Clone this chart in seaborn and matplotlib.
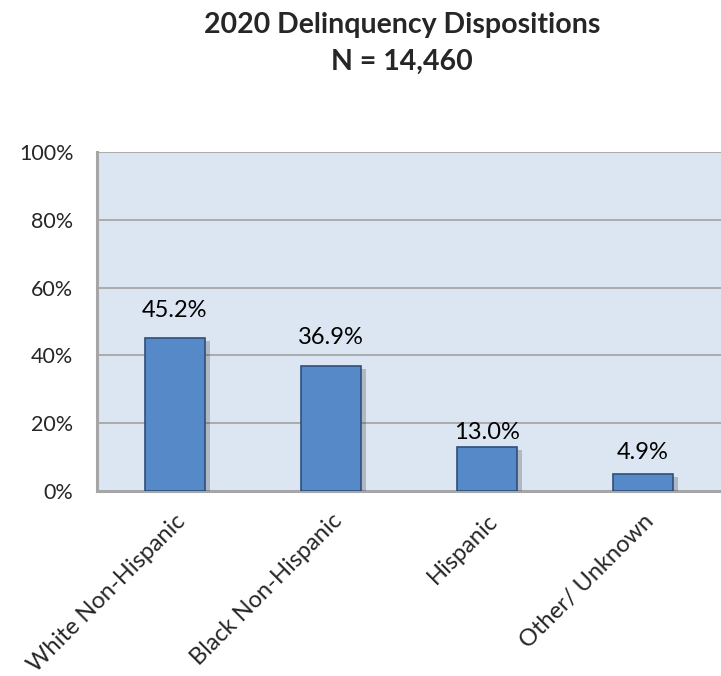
import matplotlib
matplotlib.use("Agg")
import matplotlib.pyplot as plt
import matplotlib.patheffects as pe
from matplotlib.ticker import FuncFormatter
import pandas as pd
import seaborn as sns

# ------------------------------------------------------
# Data
# ------------------------------------------------------
categories = ["White Non-Hispanic", "Black Non-Hispanic", "Hispanic", "Other/ Unknown"]
shares = [45.2, 36.9, 13.0, 4.9]
title_lines = ["2020 Delinquency Dispositions", "N = 14,460"]
y_ticks = [0, 20, 40, 60, 80, 100]

# gap between bar top and its value label (pixels), as placed in the original
label_gap_px = [27, 28, 14, 22]

df = pd.DataFrame({"group": categories, "share": shares})

# ------------------------------------------------------
# Style
# ------------------------------------------------------
sns.set_style("white")
plt.rcParams["font.family"] = ["Lato", "DejaVu Sans"]

BAR_COLOR = "#5589C8"
BG_COLOR = "#DCE6F2"
GRID_COLOR = "#A6A6A6"

fig = plt.figure(figsize=(7.21, 6.76), dpi=100)
ax = fig.add_axes([0.1345, 0.2737, 0.8655, 0.5013])
ax.set_facecolor(BG_COLOR)

sns.barplot(data=df, x="group", y="share", color=BAR_COLOR, width=0.39,
            edgecolor="#2F4F7A", linewidth=1.2, saturation=1, ax=ax, zorder=3)

for bar in ax.patches:
    bar.set_path_effects([pe.SimplePatchShadow(offset=(3, -2), shadow_rgbFace="#303030", alpha=0.25),
                          pe.Normal()])

# value labels
for i, (v, gap) in enumerate(zip(shares, label_gap_px)):
    ax.annotate(f"{v:.1f}%", xy=(i, v), xytext=(0, gap * 0.72),
                textcoords="offset points", ha="center", va="center",
                fontsize=17, color="black")

ax.set_ylim(0, 100)
ax.set_xlim(-0.5, len(categories) - 0.5)
ax.set_yticks(y_ticks)
ax.yaxis.set_major_formatter(FuncFormatter(lambda v, p: f"{v:.0f}%"))
ax.grid(axis="y", color=GRID_COLOR, linewidth=1.3, zorder=0)
ax.set_axisbelow(True)

for side in ["top", "right"]:
    ax.spines[side].set_visible(False)
for side in ["left", "bottom"]:
    ax.spines[side].set_color(GRID_COLOR)
    ax.spines[side].set_linewidth(2.2)

# category boundary ticks like Excel
ax.set_xticks([i + 0.5 for i in range(len(categories) - 1)], minor=True)
ax.tick_params(axis="x", which="minor", length=7, color=GRID_COLOR, width=1.2, direction="out")
ax.tick_params(axis="x", which="major", length=0, pad=14)
ax.tick_params(axis="y", length=7, color=GRID_COLOR, width=1.2, direction="out", pad=10)
ax.set_xticks(range(len(categories)))
ax.set_xticklabels(categories, rotation=45, ha="right", rotation_mode="anchor", fontsize=17)
for lbl in ax.get_yticklabels():
    lbl.set_fontsize(15.5)

ax.set_xlabel("")
ax.set_ylabel("")

fig.text(0.558, 0.963, title_lines[0], ha="center", va="center", fontsize=20.5, fontweight="bold")
fig.text(0.558, 0.908, title_lines[1], ha="center", va="center", fontsize=20.5, fontweight="bold")

fig.savefig("out.png", dpi=100)
plt.close(fig)
